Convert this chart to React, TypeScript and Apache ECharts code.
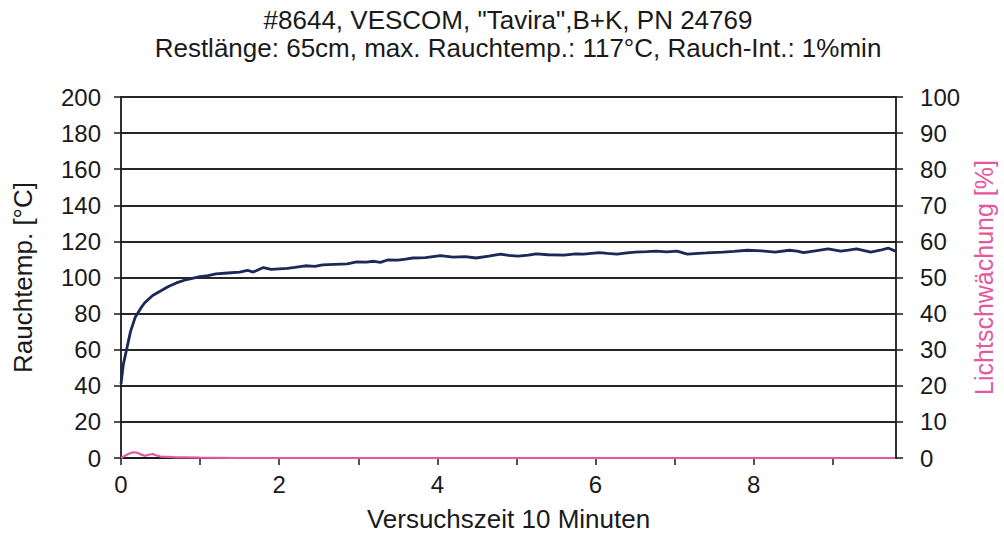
import React, { useEffect, useRef } from "react";
import * as echarts from "echarts";

const titleLine1 = '#8644, VESCOM, "Tavira",B+K, PN 24769';
const titleLine2 = "Restlänge: 65cm, max. Rauchtemp.: 117°C, Rauch-Int.: 1%min";
const xAxisName = "Versuchszeit 10 Minuten";
const yLeftName = "Rauchtemp. [°C]";
const yRightName = "Lichtschwächung [%]";

// time in minutes, smoke temperature in °C
const tempTime = [
  0, 0.03, 0.08, 0.12, 0.18, 0.25, 0.3, 0.4, 0.5, 0.6, 0.7, 0.8, 0.9, 1.0, 1.1, 1.2, 1.35, 1.5,
  1.6, 1.67, 1.8, 1.9, 2.1, 2.2, 2.33, 2.45, 2.55, 2.7, 2.86, 2.98, 3.1, 3.2, 3.28, 3.37, 3.5,
  3.6, 3.69, 3.85, 4.04, 4.2, 4.35, 4.49, 4.65, 4.8, 4.9, 5.02, 5.15, 5.25, 5.4, 5.6, 5.75,
  5.85, 6.05, 6.15, 6.27, 6.4, 6.5, 6.65, 6.77, 6.9, 7.03, 7.16, 7.3, 7.4, 7.61, 7.75, 7.92,
  8.1, 8.27, 8.45, 8.55, 8.63, 8.8, 8.94, 9.1, 9.2, 9.3, 9.48, 9.6, 9.7, 9.79,
];
const tempValues = [
  41, 52, 62, 70, 78, 83, 86, 90, 92.5, 95, 97, 98.5, 99.5, 100.5, 101, 102, 102.5, 103,
  104, 103, 105.5, 104.5, 105, 105.6, 106.5, 106.2, 107, 107.3, 107.6, 108.7, 108.5, 109, 108.4, 109.7, 109.6,
  110.2, 110.8, 111, 112.1, 111.3, 111.6, 110.8, 111.8, 113, 112.2, 111.8, 112.4, 113.1, 112.6, 112.4, 113.1,
  113, 113.8, 113.4, 113, 113.7, 114.1, 114.3, 114.6, 114.2, 114.6, 113, 113.4, 113.6, 114.1, 114.5, 115.1,
  114.8, 114.1, 115.1, 114.6, 113.8, 114.9, 115.8, 114.6, 115.2, 115.8, 114.1, 115.1, 116.3, 114.6,
];

// time in minutes, light attenuation in %
const lightTime = [0, 0.05, 0.1, 0.15, 0.2, 0.25, 0.3, 0.35, 0.4, 0.45, 0.5, 0.6, 0.7, 0.8, 1.0, 1.5, 3, 5, 7, 9, 9.79];
const lightValues = [0, 0.6, 1.2, 1.6, 1.5, 1.0, 0.6, 0.9, 1.1, 0.7, 0.4, 0.3, 0.2, 0.2, 0.1, 0, 0, 0, 0, 0, 0];

const FONT = "'Liberation Sans', Arial, sans-serif";
const PINK = "#e4589f";
const INK = "#1a1a1a";

export default function App() {
  const ref = useRef<HTMLDivElement>(null);
  useEffect(() => {
    if (!ref.current) return;
    const chart = echarts.init(ref.current, undefined, { renderer: "svg" });
    const axisLine = { show: true, lineStyle: { color: INK, width: 1.8 } };
    const axisTick = { show: true, inside: false, length: 7, lineStyle: { color: INK, width: 1.5 } };
    const titleStyle = { fontFamily: FONT, fontSize: 26, fill: INK, textAlign: "center", textVerticalAlign: "middle" };
    chart.setOption({
      animation: false,
      backgroundColor: "#ffffff",
      textStyle: { fontFamily: FONT },
      graphic: [
        { type: "text", x: 508, y: 20, style: { ...titleStyle, text: titleLine1 } },
        { type: "text", x: 518, y: 48, style: { ...titleStyle, text: titleLine2 } },
      ],
      grid: { left: 121, right: 84, top: 97, bottom: 82, containLabel: false },
      xAxis: {
        type: "value",
        min: 0,
        max: 9.8,
        interval: 1,
        name: xAxisName,
        nameLocation: "middle",
        nameGap: 48,
        nameTextStyle: { fontFamily: FONT, fontSize: 26, color: INK },
        axisLine,
        axisTick,
        splitLine: { show: false },
        axisLabel: {
          margin: 14,
          fontFamily: FONT,
          fontSize: 24,
          color: INK,
          showMaxLabel: false,
          formatter: (v: number) => (Math.round(v) % 2 === 0 ? String(Math.round(v)) : ""),
        },
      },
      yAxis: [
        {
          type: "value",
          min: 0,
          max: 200,
          interval: 20,
          position: "left",
          name: yLeftName,
          nameLocation: "middle",
          nameRotate: 90,
          nameGap: 85,
          nameTextStyle: { fontFamily: FONT, fontSize: 26, color: INK },
          axisLine,
          axisTick,
          splitLine: { show: true, lineStyle: { color: "#262626", width: 1.8 } },
          axisLabel: { margin: 20, fontFamily: FONT, fontSize: 24, color: INK },
        },
        {
          type: "value",
          min: 0,
          max: 100,
          interval: 10,
          position: "right",
          name: yRightName,
          nameLocation: "middle",
          nameRotate: 90,
          nameGap: 69,
          nameTextStyle: { fontFamily: FONT, fontSize: 25, color: PINK },
          axisLine,
          axisTick,
          splitLine: { show: false },
          axisLabel: { margin: 24, fontFamily: FONT, fontSize: 24, color: INK },
        },
      ],
      series: [
        {
          type: "line",
          yAxisIndex: 1,
          data: lightTime.map((t, i) => [t, lightValues[i]]),
          showSymbol: false,
          lineStyle: { color: PINK, width: 2.2 },
          z: 3,
        },
        {
          type: "line",
          yAxisIndex: 0,
          data: tempTime.map((t, i) => [t, tempValues[i]]),
          showSymbol: false,
          lineStyle: { color: "#1c2858", width: 2.8 },
          z: 4,
        },
      ],
    });
    return () => chart.dispose();
  }, []);
  return <div ref={ref} style={{ width: 1004, height: 540, position: "absolute", left: 0, top: 0 }} />;
}
